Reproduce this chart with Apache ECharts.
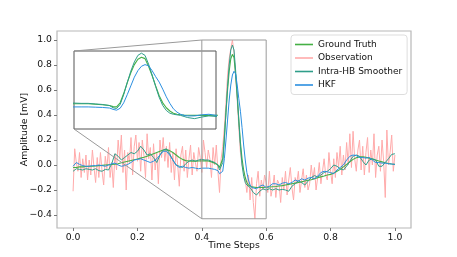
<!DOCTYPE html>
<html><head><meta charset="utf-8">
<script src="https://cdn.jsdelivr.net/npm/echarts@6/dist/echarts.min.js"></script>
<style>html,body{margin:0;padding:0;background:#fff}#c{width:457px;height:257px}</style>
</head><body><div id="c"></div>
<script>
// ---- data ----
const smoothTime = [
  0,0.01,0.02,0.03,0.04,0.05,0.06,0.07,0.08,0.09,
  0.1,0.11,0.12,0.13,0.14,0.15,0.16,0.17,0.18,0.19,
  0.2,0.21,0.22,0.23,0.24,0.25,0.26,0.27,0.28,0.29,
  0.3,0.31,0.32,0.33,0.34,0.35,0.36,0.37,0.38,0.39,
  0.4,0.41,0.42,0.43,0.44,
  0.45,0.455,0.46,0.465,0.47,0.475,0.48,0.485,0.49,0.495,0.5,0.505,0.51,0.515,0.52,0.525,0.53,0.535,0.54,0.545,0.55,0.555,0.56,
  0.57,0.58,0.59,0.6,0.61,0.62,0.63,0.64,0.65,0.66,
  0.67,0.68,0.69,0.7,0.71,0.72,0.73,0.74,0.75,0.76,
  0.77,0.78,0.79,0.8,0.81,0.82,0.83,0.84,0.85,0.86,
  0.87,0.88,0.89,0.9,0.91,0.92,0.93,0.94,0.95,0.96,
  0.97,0.98,0.99,1.0
];
const groundTruth = [
  -0.02,-0.02,-0.015,-0.015,-0.012,-0.01,-0.01,-0.008,-0.005,-0.003,
  0.0,0.002,0.004,0.006,0.01,0.018,0.024,0.03,0.036,0.042,
  0.048,0.055,0.062,0.07,0.08,0.09,0.1,0.11,0.12,0.123,
  0.115,0.1,0.08,0.06,0.045,0.035,0.032,0.031,0.031,0.032,
  0.033,0.033,0.032,0.025,0.015,
  0.0,-0.02,-0.025,0.05,0.22,0.42,0.6,0.75,0.85,0.885,0.86,0.72,0.55,0.36,0.18,0.05,-0.04,-0.1,-0.14,-0.16,-0.17,-0.175,-0.178,
  -0.18,-0.18,-0.18,-0.178,-0.176,-0.174,-0.172,-0.168,-0.165,-0.16,
  -0.155,-0.15,-0.145,-0.14,-0.135,-0.128,-0.122,-0.118,-0.11,-0.102,
  -0.095,-0.088,-0.08,-0.075,-0.065,-0.05,-0.035,-0.015,0.005,0.025,
  0.045,0.058,0.065,0.066,0.062,0.055,0.047,0.04,0.032,0.025,
  0.018,0.012,0.008,0.005
];
const intraHB = [
  -0.05,-0.03,-0.035,-0.04,-0.03,-0.035,-0.04,-0.03,-0.045,-0.05,
  -0.035,-0.04,0.01,0.09,0.07,0.04,0.06,0.08,0.1,0.09,
  0.11,0.15,0.12,0.08,0.09,0.06,0.02,0.08,0.12,0.13,
  0.09,0.04,0.0,-0.01,-0.02,0.01,0.03,0.04,0.03,0.04,
  0.045,0.04,0.04,0.03,0.02,
  0.0,-0.04,-0.055,0.02,0.2,0.42,0.63,0.8,0.92,0.96,0.92,0.76,0.56,0.35,0.15,0.0,-0.09,-0.14,-0.16,-0.17,-0.18,-0.2,-0.22,
  -0.24,-0.21,-0.19,-0.2,-0.19,-0.2,-0.19,-0.2,-0.195,-0.2,
  -0.21,-0.17,-0.15,-0.125,-0.14,-0.16,-0.13,-0.1,-0.085,-0.095,
  -0.08,-0.06,-0.05,-0.03,0.0,-0.01,-0.03,-0.04,-0.01,0.03,
  0.07,0.08,0.07,0.03,0.0,0.04,0.05,0.04,-0.01,-0.01,
  0.02,0.05,0.085,0.09
];
const hkf = [
  -0.01,0.02,0.005,-0.005,-0.01,-0.01,-0.005,-0.005,0.0,-0.005,
  -0.01,0.0,0.01,0.015,0.0,-0.01,-0.005,0.005,0.02,0.04,
  0.045,0.05,0.04,0.03,0.02,0.03,0.05,0.08,0.11,0.11,
  0.08,0.04,0.0,-0.02,-0.01,-0.02,-0.025,-0.02,-0.025,-0.03,
  -0.025,-0.025,-0.025,-0.03,-0.035,
  -0.045,-0.07,-0.085,-0.05,0.05,0.2,0.36,0.52,0.64,0.72,0.75,0.73,0.64,0.53,0.43,0.3,0.16,0.04,-0.06,-0.12,-0.16,-0.18,-0.19,
  -0.19,-0.17,-0.16,-0.18,-0.17,-0.15,-0.15,-0.16,-0.145,-0.14,
  -0.15,-0.14,-0.12,-0.13,-0.11,-0.12,-0.105,-0.1,-0.11,-0.09,
  -0.06,-0.05,-0.055,-0.06,-0.07,-0.04,-0.02,0.0,0.04,0.07,
  0.08,0.075,0.06,0.06,0.055,0.06,0.04,0.02,0.02,0.015,
  0.015,0.01,0.008,0.005
];
const obsStep = 0.005;
const observation = [
  -0.21,0.13,0.02,-0.05,0.1,-0.1,0.05,-0.06,0.08,-0.12,
  0.04,-0.08,0.12,-0.02,-0.14,0.06,-0.1,0.1,-0.05,-0.16,
  0.07,-0.03,0.14,-0.1,0.02,-0.18,0.09,-0.04,0.2,0.05,
  0.24,-0.06,0.12,-0.2,0.1,0.02,0.22,-0.08,0.15,0.24,
  0.03,0.18,-0.05,0.2,0.08,-0.1,0.25,0.05,0.14,-0.12,
  0.17,-0.04,0.1,-0.15,0.2,0.06,0.22,0.03,0.15,-0.02,
  0.18,-0.06,0.1,-0.12,0.13,0.0,-0.17,0.08,0.15,-0.05,
  0.12,-0.1,0.05,0.16,-0.08,0.1,0.02,-0.05,0.14,0.06,
  -0.06,0.2,0.1,-0.02,0.12,0.05,-0.1,0.14,0.0,0.16,
  -0.05,-0.22,0.05,0.15,0.3,0.5,0.72,0.85,0.93,1.0,
  0.9,0.72,0.52,0.3,0.1,0.0,-0.05,-0.12,-0.22,-0.08,
  -0.28,-0.1,-0.3,-0.43,-0.15,-0.05,-0.25,-0.12,-0.2,-0.08,
  -0.14,-0.22,-0.05,-0.25,-0.18,-0.08,-0.26,-0.12,-0.15,-0.3,
  -0.1,-0.2,-0.05,-0.24,-0.12,-0.02,-0.18,-0.28,-0.1,-0.15,
  -0.05,-0.22,-0.12,-0.03,-0.18,-0.08,-0.2,-0.15,0.0,-0.12,
  -0.02,-0.2,-0.1,0.02,-0.15,-0.05,0.05,-0.08,-0.12,0.1,
  -0.05,-0.15,0.05,-0.1,0.1,-0.02,0.15,-0.08,0.08,-0.04,
  0.18,0.0,0.25,-0.02,0.27,0.05,-0.05,0.12,0.2,-0.04,
  0.15,-0.08,0.1,0.22,-0.06,0.12,0.0,0.25,-0.1,0.08,
  0.15,-0.05,0.2,0.03,-0.26,0.28,0.0,0.1,0.24,-0.05,
  0.08
];
const xTicks = [0, 0.2, 0.4, 0.6, 0.8, 1.0];
const yTicks = [-0.4, -0.2, 0, 0.2, 0.4, 0.6, 0.8, 1.0];
const xRange = [-0.05, 1.05];
const yRange = [-0.504, 1.072];
const insetX = [0.4, 0.6];
const insetY = [-0.43, 1.0];
const names = ['Ground Truth', 'Observation', 'Intra-HB Smoother', 'HKF'];
const colors = ['#45b045', '#ffaaaa', '#2f9e8a', '#2b8fe0'];

// ---- build ----
const pairs = (ts, vs) => vs.map((v, i) => [ts[i], v]);
const obsTime = observation.map((_, i) => +(i * obsStep).toFixed(3));
const FONT = 'DejaVu Sans';
const FS = 9.3;
const fmt = v => (v < 0 ? '\u2212' : '') + Math.abs(v).toFixed(1);

const gtData = pairs(smoothTime, groundTruth);
const ihData = pairs(smoothTime, intraHB);
const hkData = pairs(smoothTime, hkf);
const obData = pairs(obsTime, observation);
const rectData = [
  [insetX[0], insetY[0]], [insetX[1], insetY[0]], [insetX[1], insetY[1]],
  [insetX[0], insetY[1]], [insetX[0], insetY[0]]
];

function line(name, data, color, xi, z, w) {
  return {
    name, type: 'line', data, xAxisIndex: xi, yAxisIndex: xi,
    symbol: 'none', smooth: false, z, silent: true, animation: false,
    lineStyle: { color, width: w }, itemStyle: { color }
  };
}

const chart = echarts.init(document.getElementById('c'), null, { renderer: 'canvas' });
chart.setOption({
  animation: false,
  textStyle: { fontFamily: FONT },
  grid: [
    { left: 57, top: 31, right: 46, bottom: 29, show: true, borderColor: '#b8b8b8', borderWidth: 1.2, backgroundColor: 'transparent' },
    { left: 74, top: 51, width: 142, height: 78, show: true, borderColor: '#555', borderWidth: 1, backgroundColor: '#fff', z: 5 }
  ],
  xAxis: [
    { type: 'value', gridIndex: 0, min: xRange[0], max: xRange[1],
      name: 'Time Steps', nameLocation: 'middle', nameGap: 13, nameMoveOverlap: false,
      nameTextStyle: { fontSize: FS, color: '#111', fontFamily: FONT },
      axisLine: { show: false, onZero: false }, splitLine: { show: false },
      axisTick: { show: true, length: 3, customValues: xTicks, lineStyle: { color: '#777' } },
      axisLabel: { customValues: xTicks, formatter: fmt, fontSize: FS, color: '#111', margin: 5, fontFamily: FONT } },
    { type: 'value', gridIndex: 1, min: insetX[0], max: insetX[1], show: true,
      axisLine: { show: false, onZero: false }, axisTick: { show: false }, axisLabel: { show: false }, splitLine: { show: false } }
  ],
  yAxis: [
    { type: 'value', gridIndex: 0, min: yRange[0], max: yRange[1],
      name: 'Amplitude [mV]', nameLocation: 'middle', nameGap: 28, nameRotate: 90, nameMoveOverlap: false,
      nameTextStyle: { fontSize: FS, color: '#111', fontFamily: FONT },
      axisLine: { show: false, onZero: false }, splitLine: { show: false },
      axisTick: { show: true, length: 3, customValues: yTicks, lineStyle: { color: '#777' } },
      axisLabel: { customValues: yTicks, formatter: fmt, fontSize: FS, color: '#111', margin: 5, fontFamily: FONT } },
    { type: 'value', gridIndex: 1, min: insetY[0], max: insetY[1], show: true,
      axisLine: { show: false, onZero: false }, axisTick: { show: false }, axisLabel: { show: false }, splitLine: { show: false } }
  ],
  legend: {
    orient: 'vertical', left: 291, top: 35, data: names, icon: 'rect',
    backgroundColor: '#fff', borderColor: '#dddddd', borderWidth: 1, borderRadius: 3,
    padding: [4, 5, 4, 4], itemWidth: 18, itemHeight: 1.6, itemGap: 2.5,
    textStyle: { fontSize: 9, color: '#111', fontFamily: FONT, lineHeight: 11 }, z: 20
  },
  series: [
    line(names[1], obData, colors[1], 0, 2, 1),
    line(names[0], gtData, colors[0], 0, 3, 1.1),
    line(names[2], ihData, colors[2], 0, 4, 1),
    line(names[3], hkData, colors[3], 0, 5, 1),
    { type: 'line', data: rectData, xAxisIndex: 0, yAxisIndex: 0, symbol: 'none', silent: true,
      lineStyle: { color: '#9a9a9a', width: 1 }, z: 6, legendHoverLink: false },
    Object.assign(line('gt_in', gtData, colors[0], 1, 10, 1.1), { clip: true }),
    Object.assign(line('ih_in', ihData, colors[2], 1, 11, 1), { clip: true }),
    Object.assign(line('hk_in', hkData, colors[3], 1, 12, 1), { clip: true })
  ]
});

const tlMain = chart.convertToPixel({ gridIndex: 0 }, [insetX[0], insetY[1]]);
const blMain = chart.convertToPixel({ gridIndex: 0 }, [insetX[0], insetY[0]]);
const tlIn = chart.convertToPixel({ gridIndex: 1 }, [insetX[0], insetY[1]]);
const blIn = chart.convertToPixel({ gridIndex: 1 }, [insetX[0], insetY[0]]);
chart.setOption({
  graphic: [
    { type: 'line', shape: { x1: tlIn[0], y1: tlIn[1], x2: tlMain[0], y2: tlMain[1] }, style: { stroke: '#9a9a9a', lineWidth: 1 }, z: 6, silent: true },
    { type: 'line', shape: { x1: blIn[0], y1: blIn[1], x2: blMain[0], y2: blMain[1] }, style: { stroke: '#9a9a9a', lineWidth: 1 }, z: 6, silent: true }
  ]
});
</script>
</body></html>
